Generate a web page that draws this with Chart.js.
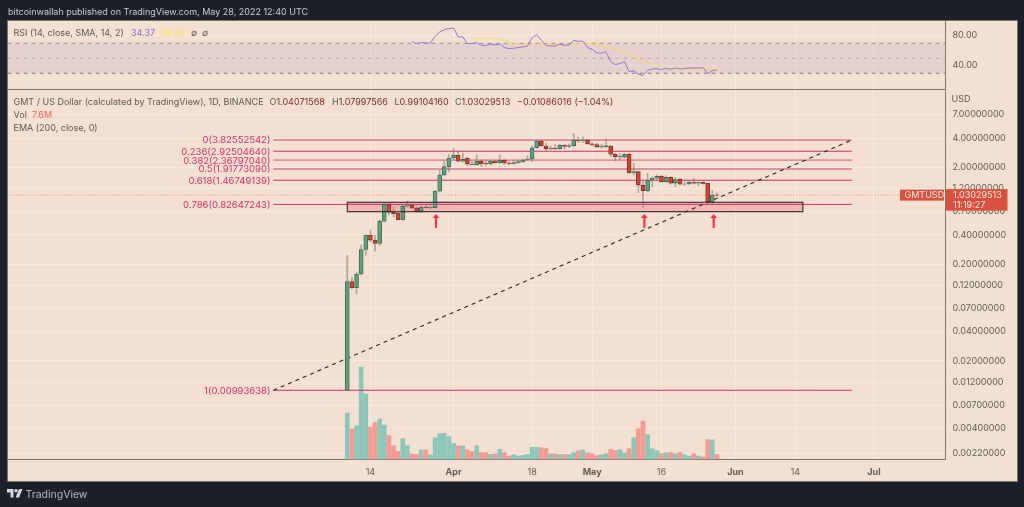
<!DOCTYPE html>
<html>
<head>
<meta charset="utf-8">
<title>GMTUSD</title>
<script src="https://cdn.jsdelivr.net/npm/chart.js@4/dist/chart.umd.min.js"></script>
<style>
html, body { margin: 0; width: 1024px; height: 507px; background: #1c202b; overflow: hidden; font-family: Inter, sans-serif; }
#panel { position: absolute; left: 7px; top: 20px; width: 1008.5px; height: 459.5px; background: #f3e0d0; border: 1px solid #77736f; }
canvas { position: absolute; left: 0; }
.t { position: absolute; white-space: nowrap; font-size: 9px; line-height: 12px; color: #5c5753; }
.red { color: #7d2b22; }
</style>
</head>
<body>
<div id="panel"></div>
<canvas id="rsiChart" width="1024" height="116" style="top:0"></canvas>
<canvas id="priceChart" width="1024" height="507" style="top:0"></canvas>

<div class="t" style="left:8px;top:6px;color:#c9ccd4">bitcoinwallah published on TradingView.com, May 28, 2022 12:40 UTC</div>
<div class="t" style="left:13.5px;top:27px">RSI (14, close, SMA, 14, 2)</div>
<div class="t" style="left:131px;top:27px;color:#8e6fd1">34.37</div>
<div class="t" style="left:160px;top:27px;color:#f5e35c">36.28</div>
<div class="t" style="left:191px;top:27px">∅</div>
<div class="t" style="left:202px;top:27px">∅</div>
<div class="t" style="left:13.5px;top:96px">GMT / US Dollar (calculated by TradingView), 1D, BINANCE</div>
<div class="t" style="left:269.5px;top:96px">O<span class="red">1.04071568</span></div>
<div class="t" style="left:332px;top:96px">H<span class="red">1.07997566</span></div>
<div class="t" style="left:394.5px;top:96px">L<span class="red">0.99104160</span></div>
<div class="t" style="left:455px;top:96px">C<span class="red">1.03029513</span></div>
<div class="t red" style="left:517px;top:96px">−0.01086016 (−1.04%)</div>
<div class="t" style="left:13.5px;top:109px">Vol</div>
<div class="t" style="left:32px;top:109px;color:#ef5c56">7.6M</div>
<div class="t" style="left:13.5px;top:122px">EMA (200, close, 0)</div>
<div class="t" style="left:951.5px;top:93px">USD</div>
<svg style="position:absolute;left:7px;top:489px" width="16" height="9" viewBox="0 0 16 9">
  <path fill="#d5d7dd" d="M0 0h6.5v8.5h-3v-5h-3.5z"/><circle fill="#d5d7dd" cx="9" cy="1.8" r="1.7"/><path fill="#d5d7dd" d="M12 0h3.5l-3.4 8.5h-3.5z"/>
</svg>
<div class="t" style="left:25.5px;top:488px;color:#b4b7c0;font-size:10.5px;line-height:14px">TradingView</div>

<script>
// day 0 = Mar 9 2022, one candle per day up to May 28
const opens = [0.00994,0.132,0.114,0.158,0.283,0.396,0.353,0.327,0.553,0.829,0.685,0.669,0.575,0.796,0.809,0.759,0.695,0.772,0.764,0.764,1.13,1.664,2.03,2.493,2.66,2.305,2.475,2.162,2.126,2.321,2.198,2.162,2.321,2.23,2.36,2.214,2.18,2.23,2.283,2.377,2.434,3.18,3.736,3.317,3.11,3.163,3.11,3.37,3.29,3.34,3.80,3.736,3.80,3.50,3.42,3.239,3.26,3.317,2.723,2.553,2.535,2.723,1.755,1.80,1.30,1.145,1.477,1.54,1.613,1.42,1.575,1.366,1.50,1.335,1.343,1.40,1.366,1.40,1.366,0.876,1.04071568];
const highs = [0.2465,0.147,0.165,0.314,0.398,0.449,0.398,0.571,0.85,0.855,0.777,0.685,0.815,0.897,0.829,0.783,0.796,0.815,0.796,1.145,1.874,2.321,2.723,3.14,2.945,2.79,2.535,2.321,2.678,2.377,2.417,2.377,2.377,2.678,2.417,2.283,2.377,2.377,2.434,2.63,3.337,3.826,3.80,3.535,3.34,3.443,3.443,3.443,3.50,4.49,4.12,4.12,3.853,3.588,3.535,3.443,3.92,3.34,2.79,2.79,2.79,2.79,2.198,1.83,1.477,1.73,1.60,1.664,1.664,1.637,1.60,1.56,1.54,1.42,1.443,1.54,1.42,1.443,1.366,1.165,1.07997566];
const lows = [0.00994,0.111,0.098,0.154,0.2465,0.339,0.274,0.314,0.54,0.643,0.613,0.571,0.571,0.772,0.741,0.685,0.679,0.754,0.741,0.759,1.103,1.637,1.80,2.417,2.25,2.25,2.075,2.111,2.111,2.03,2.075,2.111,2.198,2.198,2.111,2.111,2.147,2.198,2.25,2.337,2.283,3.14,3.29,2.945,3.04,3.04,3.066,3.088,3.186,3.26,3.62,3.62,3.443,3.317,3.186,3.14,3.186,2.57,2.337,2.377,2.475,1.73,1.664,1.09,0.772,1.12,1.26,1.477,1.40,1.40,1.335,1.26,1.312,1.30,1.32,1.335,1.29,1.335,0.829,0.815,0.99104160];
const closes = [0.132,0.114,0.158,0.283,0.398,0.353,0.327,0.553,0.829,0.685,0.663,0.575,0.79,0.815,0.759,0.695,0.777,0.764,0.777,1.13,1.664,2.03,2.493,2.678,2.305,2.434,2.162,2.126,2.321,2.18,2.162,2.321,2.23,2.36,2.214,2.18,2.23,2.283,2.377,2.434,3.18,3.736,3.34,3.11,3.163,3.11,3.37,3.29,3.34,3.826,3.736,3.80,3.50,3.396,3.239,3.317,3.34,2.723,2.57,2.60,2.723,1.755,1.80,1.312,1.145,1.477,1.54,1.613,1.42,1.575,1.366,1.487,1.335,1.343,1.409,1.366,1.40,1.35,0.876,1.034,1.03029513];
// millions
const volumes = [69,45,50,138,98,48,55,60,51,35,20,12,31,20,8,7.5,14,14,6.5,32,38,39,34,24,20,20,14,11.5,20,10,10,7.5,8,15,10,5,6.5,5,6,7.5,18,18,17,16,8,8,7,7,7,10,12.5,14,9.5,8.5,5.5,6.5,8.5,15,13,14,9.5,16,32,46,57,37,15.5,13,8.5,9.5,10.5,8,10.5,6.5,5,8,5,3.5,29.5,29,7.6];
const rsiStartDay = 14;
const rsiValues = [72.3,69.6,70.9,70.4,70.4,79.3,85.1,88.3,89.6,90.4,78.4,78.4,69.6,69.6,70.9,67.3,67.3,68.7,67.7,69.1,64.3,62.9,63.3,64.3,65.1,66.4,77.6,81.6,74,66.9,66.4,66.4,68.7,67.3,67.7,73.6,72.7,72.7,64.3,62,57.1,56.7,58.9,45.6,41.6,42.9,45.6,32.3,33.1,29.1,26.9,34,35.7,36.3,34.9,36.7,35.3,37.1,35.7,36.3,37.1,37.1,37.1,37.6,29.6,33.6,34.37];
const smaStartDay = 27;
const smaValues = [76.2,76.2,76.2,76.2,76.2,76.2,75.3,73.6,71.8,70,68.7,67.8,67.8,68.2,68.7,68.7,68.7,68.2,68.2,67.8,67.8,67.8,68.7,69.5,70,70,69.1,67.8,66.4,65.1,63.8,62,60.2,58.4,55.8,53.1,49.6,46.4,44.2,42.4,40.7,39.3,37.6,36.2,35.3,35.3,35.3,35.3,35.3,35.3,35.8,35.3,35.8,36.28];

const fibLevels = ['0','0.236','0.382','0.5','0.618','0.786','1'];
const fibPrices = [3.82552542,2.92504640,2.36797040,1.91773090,1.46749139,0.82647243,0.00993638];
const softFibLevels = ['0','0.382','0.5'];
const fibStartDay = -16;
const fibEndDay = 109.2;
const zoneStartDay = 0;
const zoneEndDay = 98.6;
const zoneTop = 0.869;
const zoneBottom = 0.695;
const arrowDays = [19.2, 64.3, 79.3];
const arrowTip = 0.658;
const arrowTail = 0.472;

const priceTicks = [7,4,2,1.2,0.7,0.4,0.2,0.12,0.07,0.04,0.02,0.012,0.007,0.004,0.0022];
const rsiTicks = [80,40];
const rsiBands = [70,50,30];
const timeTickDays = [5,23,40,53,68,84,97,114];
const timeTickLabels = ['14','Apr','18','May','16','Jun','14','Jul'];
const monthLabels = ['Apr','May','Jun','Jul'];

const gridColor = 'rgba(255,255,255,0.3)';
const axisColor = '#7d7770';
const textColor = '#5f5b57';
const fibColor = '#d42e6b';
const fibSoftColor = '#e2909f';
const xMin = -73.55;
const xMax = 129.48;
const axisFont = { family: 'Inter', size: 9 };
const days = opens.map((_, i) => i);
const isUp = days.map(i => closes[i] >= opens[i]);
const lastClose = closes[closes.length - 1];

Chart.defaults.animation = false;
Chart.defaults.responsive = false;
Chart.defaults.devicePixelRatio = 1;
Chart.defaults.plugins.legend.display = false;
Chart.defaults.plugins.tooltip.enabled = false;

function timeAxis(showLabels, height) {
  return {
    type: 'linear', min: xMin, max: xMax, offset: false,
    afterBuildTicks: s => { s.ticks = timeTickDays.map(v => ({ value: v })); },
    afterFit: s => { s.height = height; },
    border: { color: axisColor },
    grid: { color: gridColor, offset: false, drawTicks: false },
    ticks: {
      display: showLabels, autoSkip: false, maxRotation: 0, padding: 8, color: textColor,
      callback: v => timeTickLabels[timeTickDays.indexOf(v)],
      font: c => ({ family: 'Inter', size: 9, weight: monthLabels.includes(timeTickLabels[c.index]) ? 'bold' : 'normal' })
    }
  };
}

function flatLine(value, fromDay, toDay, color, extra) {
  return Object.assign({ type: 'line', data: [{ x: fromDay, y: value }, { x: toDay, y: value }],
    borderColor: color, borderWidth: 1, pointRadius: 0, yAxisID: 'y' }, extra);
}

// ---- RSI pane ----
const rsiPoints = rsiValues.map((v, i) => ({ x: rsiStartDay + i, y: v }));
const smaPoints = smaValues.map((v, i) => ({ x: smaStartDay + i, y: v }));
new Chart(document.getElementById('rsiChart'), {
  type: 'line',
  data: { datasets: [
    { data: rsiPoints, borderColor: '#9573d6', borderWidth: 1, pointRadius: 0, order: 1 },
    { data: smaPoints, borderColor: '#f0dc63', borderWidth: 1, pointRadius: 0, order: 2 },
    flatLine(rsiBands[0], xMin, xMax, '#9a8f8e', { borderDash: [4, 4], order: 3, fill: '+2', backgroundColor: 'rgba(150,110,190,0.13)' }),
    flatLine(rsiBands[1], xMin, xMax, '#bdb0ae', { borderDash: [4, 4], order: 3 }),
    flatLine(rsiBands[2], xMin, xMax, '#8a7f7e', { borderDash: [4, 4], order: 3 })
  ] },
  options: {
    layout: { padding: { left: 7.5, right: 7.5, top: 21, bottom: 27 } },
    scales: {
      x: timeAxis(false, 0),
      y: {
        type: 'linear', position: 'right', min: 9.07, max: 99.7,
        afterBuildTicks: s => { s.ticks = rsiTicks.map(v => ({ value: v })); },
        afterFit: s => { s.width = 71; },
        border: { color: axisColor },
        grid: { color: gridColor, drawTicks: false },
        ticks: { padding: 7, color: textColor, font: axisFont, callback: v => v.toFixed(2) }
      }
    }
  }
});

// ---- price pane ----
const sceneBehind = {
  id: 'sceneBehind',
  beforeDatasetsDraw(chart) {
    const { ctx, scales: { x, y } } = chart;
    const left = x.getPixelForValue(zoneStartDay), right = x.getPixelForValue(zoneEndDay);
    const top = y.getPixelForValue(zoneTop), bottom = y.getPixelForValue(zoneBottom);
    ctx.save();
    ctx.fillStyle = 'rgba(240,130,135,0.45)';
    ctx.fillRect(left, top, right - left, bottom - top);
    ctx.restore();
  }
};

const sceneFront = {
  id: 'sceneFront',
  afterDatasetsDraw(chart) {
    const { ctx, scales: { x, y } } = chart;
    const left = x.getPixelForValue(zoneStartDay), right = x.getPixelForValue(zoneEndDay);
    const top = y.getPixelForValue(zoneTop), bottom = y.getPixelForValue(zoneBottom);
    ctx.save();
    ctx.strokeStyle = '#2c2a2a';
    ctx.lineWidth = 1.1;
    ctx.strokeRect(left, top, right - left, bottom - top);

    ctx.font = '9.5px Inter';
    ctx.fillStyle = fibColor;
    ctx.textAlign = 'right';
    ctx.textBaseline = 'middle';
    fibLevels.forEach((lvl, i) => {
      ctx.fillText(lvl + '(' + fibPrices[i].toFixed(8) + ')', x.getPixelForValue(fibStartDay) - 3, y.getPixelForValue(fibPrices[i]) + 0.5);
    });

    ctx.strokeStyle = ctx.fillStyle = '#f23645';
    ctx.lineWidth = 2.2;
    arrowDays.forEach(d => {
      const px = x.getPixelForValue(d), tip = y.getPixelForValue(arrowTip), tail = y.getPixelForValue(arrowTail);
      ctx.beginPath(); ctx.moveTo(px, tip + 3); ctx.lineTo(px, tail); ctx.stroke();
      ctx.beginPath(); ctx.moveTo(px, tip); ctx.lineTo(px + 3.5, tip + 4); ctx.lineTo(px - 3.5, tip + 4); ctx.closePath(); ctx.fill();
    });
    ctx.restore();
  },
  afterDraw(chart) {
    const { ctx, chartArea, scales: { y } } = chart;
    const py = y.getPixelForValue(lastClose);
    ctx.save();
    ctx.fillStyle = '#d9503f';
    ctx.fillRect(chartArea.right - 45.5, py - 5.5, 44, 11);
    ctx.fillRect(chartArea.right + 0.5, py - 6, 61.5, 21.5);
    ctx.font = '9px Inter';
    ctx.fillStyle = '#fbe9e3';
    ctx.textAlign = 'left';
    ctx.textBaseline = 'middle';
    ctx.fillText('GMTUSD', chartArea.right - 41, py + 0.5);
    ctx.fillText(lastClose.toFixed(8), chartArea.right + 7.5, py + 0.5);
    ctx.fillText('11:19:27', chartArea.right + 7.5, py + 10.5);
    ctx.restore();
  }
};

new Chart(document.getElementById('priceChart'), {
  type: 'bar',
  data: { datasets: [
    { data: days.map(i => ({ x: i, y: [opens[i], closes[i]] })), yAxisID: 'y', barThickness: 4, borderWidth: 1, borderSkipped: false, grouped: false, order: 1,
      backgroundColor: days.map(i => isUp[i] ? '#629f80' : '#d04633'),
      borderColor: days.map(i => isUp[i] ? '#3f6f57' : '#8a3226') },
    { data: days.map(i => ({ x: i, y: [lows[i], highs[i]] })), yAxisID: 'y', barThickness: 1, grouped: false, order: 2,
      backgroundColor: 'rgba(115,108,102,0.5)' },
    { type: 'line', data: [{ x: fibStartDay, y: fibPrices[6] }, { x: fibEndDay, y: fibPrices[0] }], yAxisID: 'y',
      borderColor: '#26231f', borderWidth: 1.1, borderDash: [4, 4], pointRadius: 0, order: 3 },
    ...fibPrices.map((p, i) => {
      const soft = softFibLevels.includes(fibLevels[i]);
      return flatLine(p, fibStartDay, fibEndDay, soft ? fibSoftColor : fibColor, { order: 4, borderWidth: soft ? 1.8 : 1 });
    }),
    flatLine(lastClose, xMin, xMax, 'rgba(217,80,63,0.6)', { borderDash: [1, 2], order: 5 }),
    { data: days.map(i => ({ x: i, y: volumes[i] })), yAxisID: 'vol', barThickness: 4, grouped: false, order: 6,
      backgroundColor: days.map(i => isUp[i] ? '#8cc7ba' : '#f49c93') }
  ] },
  options: {
    layout: { padding: { left: 7.5, right: 7.5, top: 89, bottom: 26.5 } },
    scales: {
      x: timeAxis(true, 21.2),
      y: {
        type: 'logarithmic', position: 'right', min: 0.001924, max: 12.86,
        afterBuildTicks: s => { s.ticks = priceTicks.map(v => ({ value: v })); },
        afterFit: s => { s.width = 71; },
        border: { color: axisColor },
        grid: { color: gridColor, drawTicks: false },
        ticks: { autoSkip: false, padding: 7, color: textColor, font: axisFont, callback: v => v.toFixed(8) }
      },
      vol: { type: 'linear', display: false, min: 0, max: 553.6 }
    }
  },
  plugins: [sceneBehind, sceneFront]
});
</script>
</body>
</html>
